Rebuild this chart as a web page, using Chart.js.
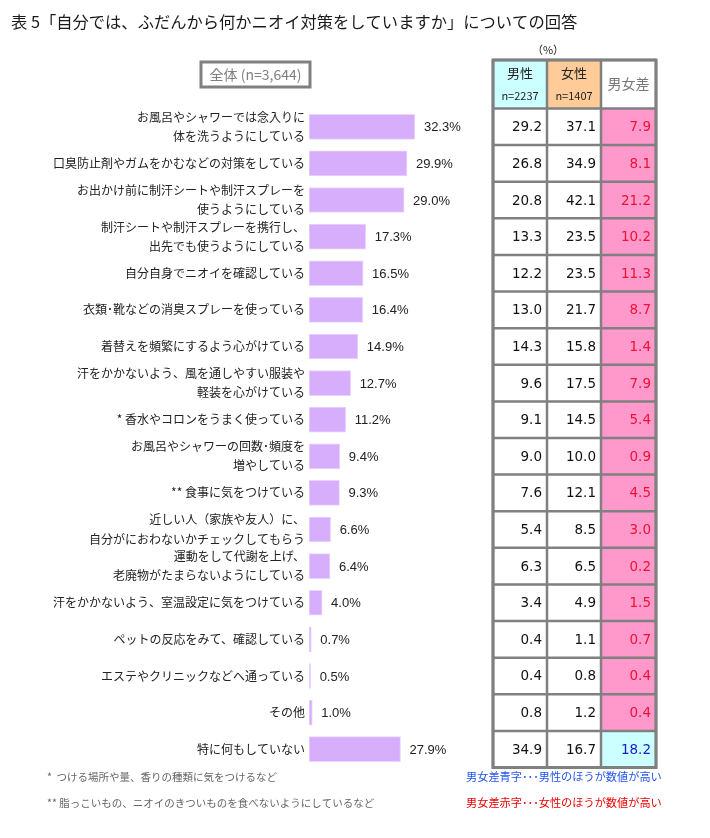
<!DOCTYPE html>
<html><head><meta charset="utf-8">
<script src="https://cdn.jsdelivr.net/npm/chart.js@4"></script>
<style>html,body{margin:0;padding:0;background:#fff}#wrap{width:710px;height:838px;position:relative}</style>
</head><body><div id="wrap"><canvas id="c"></canvas></div>
<script>
const categories = [
  ["お風呂やシャワーでは念入りに","体を洗うようにしている"],
  "口臭防止剤やガムをかむなどの対策をしている",
  ["お出かけ前に制汗シートや制汗スプレーを","使うようにしている"],
  ["制汗シートや制汗スプレーを携行し、","出先でも使うようにしている"],
  "自分自身でニオイを確認している",
  "衣類･靴などの消臭スプレーを使っている",
  "着替えを頻繁にするよう心がけている",
  ["汗をかかないよう、風を通しやすい服装や","軽装を心がけている"],
  "* 香水やコロンをうまく使っている",
  ["お風呂やシャワーの回数･頻度を","増やしている"],
  "** 食事に気をつけている",
  ["近しい人（家族や友人）に、","自分がにおわないかチェックしてもらう"],
  ["運動をして代謝を上げ、","老廃物がたまらないようにしている"],
  "汗をかかないよう、室温設定に気をつけている",
  "ペットの反応をみて、確認している",
  "エステやクリニックなどへ通っている",
  "その他",
  "特に何もしていない"
];
const totalValues = [32.3, 29.9, 29.0, 17.3, 16.5, 16.4, 14.9, 12.7, 11.2, 9.4, 9.3, 6.6, 6.4, 4.0, 0.7, 0.5, 1.0, 27.9];
const maleValues = [29.2, 26.8, 20.8, 13.3, 12.2, 13.0, 14.3, 9.6, 9.1, 9.0, 7.6, 5.4, 6.3, 3.4, 0.4, 0.4, 0.8, 34.9];
const femaleValues = [37.1, 34.9, 42.1, 23.5, 23.5, 21.7, 15.8, 17.5, 14.5, 10.0, 12.1, 8.5, 6.5, 4.9, 1.1, 0.8, 1.2, 16.7];
const diffValues = [7.9, 8.1, 21.2, 10.2, 11.3, 8.7, 1.4, 7.9, 5.4, 0.9, 4.5, 3.0, 0.2, 1.5, 0.7, 0.4, 0.4, 18.2];
const titleText = "表 5「自分では、ふだんから何かニオイ対策をしていますか」についての回答";
const totalHeader = "全体 (n=3,644)";
const tableHeaders = [["男性","n=2237"],["女性","n=1407"],["男女差"]];
const notes = ["*  つける場所や量、香りの種類に気をつけるなど","** 脂っこいもの、ニオイのきついものを食べないようにしているなど"];
const legendNotes = ["男女差青字･･･男性のほうが数値が高い","男女差赤字･･･女性のほうが数値が高い"];

const JP = '"Noto Sans CJK JP", "Noto Sans", sans-serif';

const overlay = {
  id: 'overlay',
  afterDatasetsDraw(chart) {
    const ctx = chart.ctx;
    const y = chart.scales.y;
    const meta = chart.getDatasetMeta(0);
    ctx.save();
    // title
    ctx.fillStyle = '#1a1a1a';
    ctx.font = '16.3px ' + JP;
    ctx.textAlign = 'left'; ctx.textBaseline = 'middle';
    ctx.fillText(titleText, 11, 22);
    // value labels
    ctx.font = '13px "Liberation Sans", Arial, sans-serif';
    ctx.fillStyle = '#222';
    meta.data.forEach((bar, i) => {
      ctx.fillText(totalValues[i].toFixed(1) + '%', bar.x + 9, bar.y + 1);
    });
    // total box
    ctx.strokeStyle = '#808080'; ctx.lineWidth = 3;
    ctx.strokeRect(201, 62, 109, 25);
    ctx.fillStyle = '#808080';
    ctx.font = '14px ' + JP;
    ctx.textAlign = 'center';
    ctx.fillText(totalHeader, 255.5, 74.5);
    // table
    const cols = [493, 547, 601, 656];
    const band = y.getPixelForValue(1) - y.getPixelForValue(0);
    const top0 = y.getPixelForValue(0) - band / 2;
    const hTop = 60;
    const n = categories.length;
    const bottom = top0 + n * band;
    ctx.fillStyle = '#ccffff'; ctx.fillRect(cols[0], hTop, cols[1]-cols[0], top0-hTop);
    ctx.fillStyle = '#ffcc99'; ctx.fillRect(cols[1], hTop, cols[2]-cols[1], top0-hTop);
    for (let i = 0; i < n; i++) {
      const male = maleValues[i] > femaleValues[i];
      ctx.fillStyle = male ? '#ccffff' : '#ff99cc';
      ctx.fillRect(cols[2], top0 + i*band, cols[3]-cols[2], band);
    }
    ctx.fillStyle = '#222';
    for (let c = 0; c < 2; c++) {
      const cx = (cols[c] + cols[c+1]) / 2;
      ctx.font = '13px ' + JP;
      ctx.fillText(tableHeaders[c][0], cx, 73);
      ctx.font = '11px ' + JP;
      ctx.fillText(tableHeaders[c][1], cx, 96);
    }
    ctx.fillStyle = '#777';
    ctx.font = '14px ' + JP;
    ctx.fillText(tableHeaders[2][0], (cols[2]+cols[3])/2, 84);
    ctx.fillStyle = '#222';
    ctx.font = '11px ' + JP;
    ctx.fillText('（%）', 548, 50);
    ctx.textAlign = 'right';
    ctx.font = '13.5px "DejaVu Sans", Verdana, sans-serif';
    for (let i = 0; i < n; i++) {
      const cy = top0 + (i + 0.5) * band + 1;
      ctx.fillStyle = '#111';
      ctx.fillText(maleValues[i].toFixed(1), cols[1] - 5, cy);
      ctx.fillText(femaleValues[i].toFixed(1), cols[2] - 5, cy);
      const male = maleValues[i] > femaleValues[i];
      ctx.fillStyle = male ? '#1a1acc' : '#ee1133';
      ctx.fillText(diffValues[i].toFixed(1), cols[3] - 5, cy);
    }
    ctx.strokeStyle = '#808080'; ctx.lineWidth = 2.5;
    ctx.beginPath();
    cols.forEach(x => { ctx.moveTo(x, hTop); ctx.lineTo(x, bottom); });
    ctx.moveTo(cols[0], hTop); ctx.lineTo(cols[3], hTop);
    for (let i = 0; i <= n; i++) {
      const yy = top0 + i * band;
      ctx.moveTo(cols[0], yy); ctx.lineTo(cols[3], yy);
    }
    ctx.stroke();
    ctx.lineWidth = 3;
    ctx.strokeRect(cols[0], hTop, cols[3]-cols[0], bottom-hTop);
    // footnotes
    ctx.textAlign = 'left';
    ctx.font = '10.5px ' + JP;
    ctx.fillStyle = '#666';
    ctx.fillText(notes[0], 47, 777);
    ctx.fillText(notes[1], 47, 803);
    ctx.font = '11.2px ' + JP;
    ctx.fillStyle = '#2255ee';
    ctx.fillText(legendNotes[0], 466, 777);
    ctx.fillStyle = '#ee0000';
    ctx.fillText(legendNotes[1], 466, 803);
    ctx.restore();
  }
};

new Chart(document.getElementById('c'), {
  type: 'bar',
  data: {
    labels: categories,
    datasets: [{
      data: totalValues,
      backgroundColor: '#d7aefb',
      borderColor: '#ead4ff',
      borderWidth: 1,
      borderSkipped: false,
      barThickness: 25
    }]
  },
  options: {
    indexAxis: 'y',
    responsive: true,
    maintainAspectRatio: false,
    animation: false,
    layout: { padding: { left: 0, right: 220, top: 108.5, bottom: 70.5 } },
    plugins: { legend: { display: false }, tooltip: { enabled: false } },
    scales: {
      x: { display: false, min: 0, max: 55.2 },
      y: {
        grid: { display: false, drawTicks: false },
        border: { display: false },
        afterFit(scale) { scale.width = 309; },
        ticks: {
          padding: 4,
          color: '#222',
          autoSkip: false,
          font: { family: JP, size: 12, lineHeight: 1.6 }
        }
      }
    }
  },
  plugins: [overlay]
});
</script></body></html>
